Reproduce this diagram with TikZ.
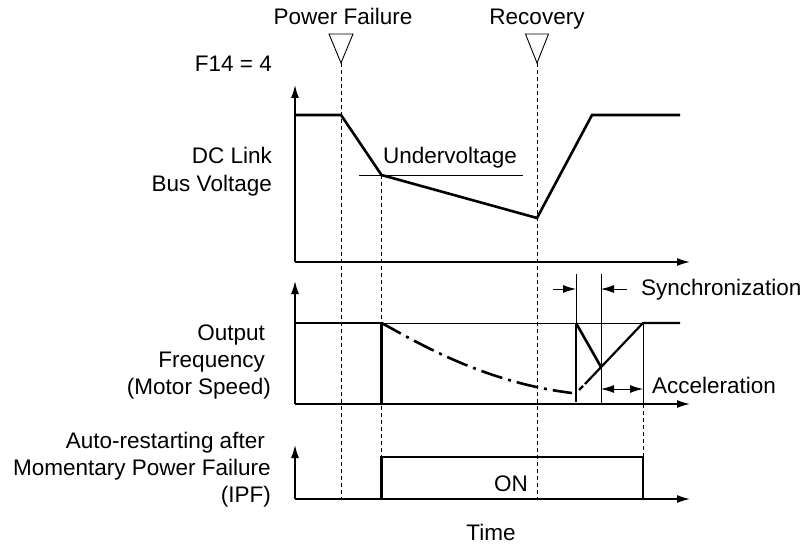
\documentclass[tikz,border=0pt]{standalone}
\usepackage{fontspec}
\setmainfont{Liberation Sans}
\usetikzlibrary{arrows.meta}
\begin{document}
\begin{tikzpicture}[x=1pt,y=-1pt,
  lbl/.style={inner sep=0pt,font=\fontsize{22.5}{27}\selectfont},
  axis/.style={line width=1.4pt,-{Latex[length=13pt,width=8pt]}},
  sig/.style={line width=2.6pt,line join=miter},
  thin/.style={line width=0.9pt},
  dsh/.style={line width=0.9pt,dash pattern=on 4pt off 3pt},
  dim/.style={line width=1pt,-{Latex[length=13pt,width=8pt]}},
  dimboth/.style={line width=1pt,{Latex[length=13pt,width=8pt]}-{Latex[length=13pt,width=8pt]}},
  tri/.style={draw,line width=0.9pt}]
\useasboundingbox (0,0) rectangle (808,545);

% coordinates
\coordinate (o1) at (295,262);
\coordinate (y1) at (295,85);
\coordinate (x1) at (690,262);
\coordinate (o2) at (295,404);
\coordinate (y2) at (295,281);
\coordinate (x2) at (690,404);
\coordinate (o3) at (295,499);
\coordinate (y3) at (295,445);
\coordinate (x3) at (690,499);

% triangles
\draw[tri] (329,34) -- (353,34) -- (341,63) -- cycle;
\draw[tri] (525.5,34) -- (548.5,34) -- (537,63) -- cycle;

% dashed guide lines
\coordinate (pfT) at (341,63);    \coordinate (pfB) at (341,499);
\coordinate (rcT) at (537,63);    \coordinate (rcB) at (537,499);
\coordinate (uvT) at (381.5,175); \coordinate (uvB) at (381.5,499);
\coordinate (acT) at (643,404);   \coordinate (acB) at (643,457);
\draw[dsh] (pfT) -- (pfB);
\draw[dsh] (rcT) -- (rcB);
\draw[dsh] (uvT) -- (uvB);
\draw[dsh] (acT) -- (acB);

% axes
\draw[axis] (o1) -- (y1);
\draw[axis] (o1) -- (x1);
\draw[axis] (o2) -- (y2);
\draw[axis] (o2) -- (x2);
\draw[axis] (o3) -- (y3);
\draw[axis] (o3) -- (x3);

% graph 1
\coordinate (uvL) at (359,175);
\coordinate (uvR) at (523,175);
\draw[thin] (uvL) -- (uvR);
\draw[sig] (295,115) -- (341,115) -- (381.5,175) -- (537,218) -- (592,115) -- (680,115);

% graph 2
\draw[thin] (295,323) -- (643,323);
\draw[thin] (576,274) -- (576,323);
\draw[thin] (601,274) -- (601,404);
\draw[thin] (643,323) -- (643,404);
\draw[sig] (295,323) -- (381.5,323) -- (381.5,404);
\draw[line width=2.6pt,dash pattern=on 22pt off 6pt on 3pt off 6pt]
  (381.5,323) .. controls (410,338) and (480,382) .. (572,393);
\draw[sig] (576,323) -- (576,402);
\draw[sig] (576,323) -- (601,367);
\draw[line width=2.2pt] (579,390) -- (583,386);
\draw[line width=2.2pt] (585,384) -- (643,323) -- (680,323);

% dimension arrows
\coordinate (sa1) at (553,289); \coordinate (sa2) at (576,289);
\coordinate (sb1) at (627,289); \coordinate (sb2) at (601,289);
\draw[dim] (sa1) -- (sa2);
\draw[dim] (sb1) -- (sb2);
\coordinate (ac1) at (601,389); \coordinate (ac2) at (643,389);
\draw[dimboth] (ac1) -- (ac2);

% graph 3
\draw[sig] (381.5,499) -- (381.5,457) -- (643,457) -- (643,499);

% texts
\node[lbl,anchor=base] (tpf) at (343,25) {Power Failure};
\node[lbl,anchor=base] (trc) at (537,25) {Recovery};
\node[lbl,anchor=base] (tuv) at (450,164) {Undervoltage};
\node[lbl,anchor=base east] (tf14) at (272,72) {F14 = 4};
\node[lbl,anchor=base east] (tdc1) at (272,164) {DC Link};
\node[lbl,anchor=base east] (tdc2) at (272,192) {Bus Voltage};
\node[lbl,anchor=base east] (tof1) at (265,340) {Output};
\node[lbl,anchor=base east] (tof2) at (265,367) {Frequency};
\node[lbl,anchor=base east] (tof3) at (271,394) {(Motor Speed)};
\node[lbl,anchor=base east] (tip1) at (265,448) {Auto-restarting after};
\node[lbl,anchor=base east] (tip2) at (271,475) {Momentary Power Failure};
\node[lbl,anchor=base east] (tip3) at (271,502) {(IPF)};
\node[lbl,anchor=base west] (tsy) at (641,295) {Synchronization};
\node[lbl,anchor=base west] (tac) at (652,393) {Acceleration};
\node[lbl,anchor=base] (ton) at (511,491) {ON};
\node[lbl,anchor=base] (ttm) at (491,540) {Time};
\end{tikzpicture}
\end{document}
